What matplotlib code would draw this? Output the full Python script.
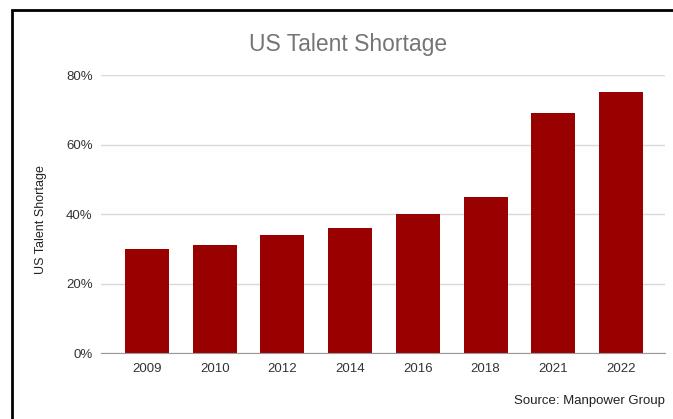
import matplotlib.pyplot as plt
from matplotlib.patches import Rectangle

plt.rcParams['font.family'] = ['Liberation Sans', 'DejaVu Sans']

years = ['2009', '2010', '2012', '2014', '2016', '2018', '2021', '2022']
shortage = [30, 31, 34, 36, 40, 45, 69, 75]
y_ticks = [0, 20, 40, 60, 80]
y_tick_labels = ['0%', '20%', '40%', '60%', '80%']

fig = plt.figure(figsize=(6.73, 4.19), dpi=100)
ax = fig.add_axes([0.150, 0.1575, 0.838, 0.6635])

ax.bar(range(len(years)), shortage, width=0.65, color='#990000', zorder=3)

ax.set_ylim(0, 80)
ax.set_xlim(-0.68, 7.65)
ax.set_yticks(y_ticks)
ax.set_yticklabels(y_tick_labels)
ax.set_xticks(range(len(years)))
ax.set_xticklabels(years)
ax.tick_params(axis='both', length=0, labelsize=9.5, colors='#333333')
ax.tick_params(axis='y', pad=6)
ax.tick_params(axis='x', pad=7)

ax.grid(axis='y', color='#d9d9d9', linewidth=1, zorder=0)
for side in ['top', 'right', 'left']:
    ax.spines[side].set_visible(False)
ax.spines['bottom'].set_color('#999999')
ax.spines['bottom'].set_zorder(4)

ax.set_ylabel('US Talent Shortage', fontsize=9, color='#222222')
ax.yaxis.set_label_coords(-0.095, 0.48)

fig.text(0.517, 0.893, 'US Talent Shortage', fontsize=16.5, color='#757575',
         ha='center', va='center')
fig.text(0.988, 0.043, 'Source: Manpower Group', fontsize=9.5, color='#222222',
         ha='right', va='center')

# frame around the whole graphic, running off the right and bottom edges
fig.patches.append(Rectangle((12 / 673, -0.1), 1.2, 0.976 + 0.1,
                             transform=fig.transFigure, fill=False,
                             edgecolor='black', linewidth=2))

fig.savefig('out.png', dpi=100)
